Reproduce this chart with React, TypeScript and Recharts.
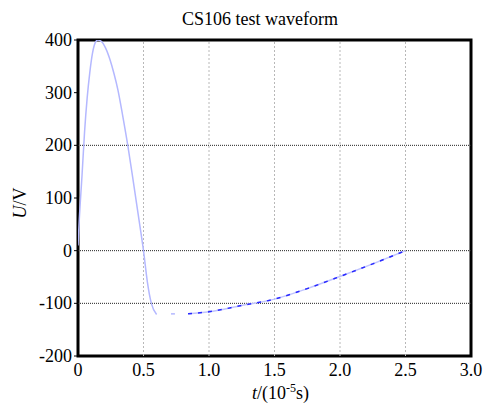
import React from "react";
import {
  LineChart,
  Line,
  XAxis,
  YAxis,
  ReferenceLine,
  ReferenceArea,
} from "recharts";

// rising pulse, sampled off the light trace
const pulseT = [0, 0.01, 0.03, 0.05, 0.07, 0.09, 0.11, 0.13, 0.15, 0.18, 0.21, 0.245, 0.275, 0.305, 0.34, 0.38, 0.42, 0.46, 0.5, 0.53, 0.56, 0.6];
const pulseU = [10, 60, 140, 225, 290, 338, 374, 394, 400, 397, 385, 362, 336, 305, 258, 200, 135, 68, 0, -60, -100, -121];

// isolated dot in the gap
const gapT = [0.71, 0.74];
const gapU = [-120, -120];

// slow recovery tail (dashed)
const tailT = [0.84, 1.0, 1.25, 1.5, 1.75, 2.0, 2.25, 2.5];
const tailU = [-120, -116, -104, -92, -72, -49, -25, 0];

const xTicks = [0, 0.5, 1.0, 1.5, 2.0, 2.5, 3.0];
const yTicks = [-200, -100, 0, 100, 200, 300, 400];
const vGrid = [0.5, 1.0, 1.5, 2.0, 2.5];
const hGrid = [200, 0, -100];

const FONT = "'Liberation Serif', 'Times New Roman', serif";

const toRows = (ts: number[], us: number[]) => ts.map((t, i) => ({ t, u: us[i] }));

const XTick = (p: any) => {
  const v = p.payload.value as number;
  return (
    <text x={p.x} y={p.y} dy="0.75em" textAnchor="middle" fontSize={18} fill="#000" style={{ fontFamily: FONT }}>
      {v === 0 ? "0" : v.toFixed(1)}
    </text>
  );
};

const YTick = (p: any) => (
  <text x={p.x} y={p.y} dy="0.34em" textAnchor="end" fontSize={18} fill="#000" style={{ fontFamily: FONT }}>
    {p.payload.value}
  </text>
);

export default function App() {
  const pulse = toRows(pulseT, pulseU);
  const gap = toRows(gapT, gapU);
  const tail = toRows(tailT, tailU);

  return (
    <div
      style={{
        position: "absolute",
        left: 0,
        top: 0,
        width: 500,
        height: 403,
        background: "#fff",
        fontFamily: FONT,
      }}
    >
      <div
        style={{
          position: "absolute",
          left: 0,
          width: 520,
          top: 10,
          textAlign: "center",
          fontSize: 18,
          lineHeight: "18px",
          color: "#000",
        }}
      >
        CS106 test waveform
      </div>
      <LineChart
        width={500}
        height={403}
        margin={{ top: 40, right: 29, bottom: 22, left: 10 }}
      >
        <XAxis
          type="number"
          dataKey="t"
          domain={[0, 3]}
          ticks={xTicks}
          allowDataOverflow
          tickLine={false}
          axisLine={false}
          tickMargin={0}
          height={25}
          tick={<XTick />}
          label={{
            content: (p: any) => {
              const vb = p.viewBox || { x: 78, y: 356, width: 393, height: 25 };
              return (
                <text
                  x={vb.x + vb.width / 2 + 6}
                  y={vb.y + 43}
                  textAnchor="middle"
                  fontSize={18}
                  fill="#000"
                  style={{ fontFamily: FONT }}
                >
                  <tspan fontStyle="italic">t</tspan>
                  <tspan>/(10</tspan>
                  <tspan dy={-7} fontSize={12}>-5</tspan>
                  <tspan dy={7}>s)</tspan>
                </text>
              );
            },
          }}
        />
        <YAxis
          type="number"
          domain={[-200, 400]}
          ticks={yTicks}
          allowDataOverflow
          width={68}
          tickSize={4}
          tickMargin={2}
          axisLine={false}
          tickLine={{ stroke: "#000" }}
          tick={<YTick />}
          label={{
            content: (p: any) => {
              const vb = p.viewBox || { x: 10, y: 40, width: 68, height: 316 };
              const cx = vb.x + 16;
              const cy = vb.y + vb.height / 2 + 5;
              return (
                <text
                  x={cx}
                  y={cy}
                  transform={`rotate(-90, ${cx}, ${cy})`}
                  textAnchor="middle"
                  fontSize={18}
                  fill="#000"
                  style={{ fontFamily: FONT }}
                >
                  <tspan fontStyle="italic">U</tspan>
                  <tspan>/V</tspan>
                </text>
              );
            },
          }}
        />
        {vGrid.map((x) => (
          <ReferenceLine key={"v" + x} x={x} stroke="#b8b8b8" strokeDasharray="2 2" strokeWidth={1} />
        ))}
        {hGrid.map((y) => (
          <ReferenceLine key={"h" + y} y={y} stroke="#222" strokeDasharray="1 1" strokeWidth={1} />
        ))}
        <ReferenceArea x1={0} x2={3} y1={-200} y2={400} fill="none" stroke="#000" strokeWidth={3} />
        <Line
          data={pulse}
          dataKey="u"
          type="monotone"
          stroke="#b4b8ff"
          strokeWidth={1.5}
          dot={false}
          isAnimationActive={false}
        />
        <Line
          data={gap}
          dataKey="u"
          type="linear"
          stroke="#b4b8ff"
          strokeWidth={1.5}
          dot={false}
          isAnimationActive={false}
        />
        <Line
          data={tail}
          dataKey="u"
          type="monotone"
          stroke="#c0c4ff"
          strokeWidth={1.5}
          dot={false}
          isAnimationActive={false}
        />
        <Line
          data={tail}
          dataKey="u"
          type="monotone"
          stroke="#2a2aff"
          strokeWidth={1.5}
          strokeDasharray="4 6"
          dot={false}
          isAnimationActive={false}
        />
      </LineChart>
    </div>
  );
}
